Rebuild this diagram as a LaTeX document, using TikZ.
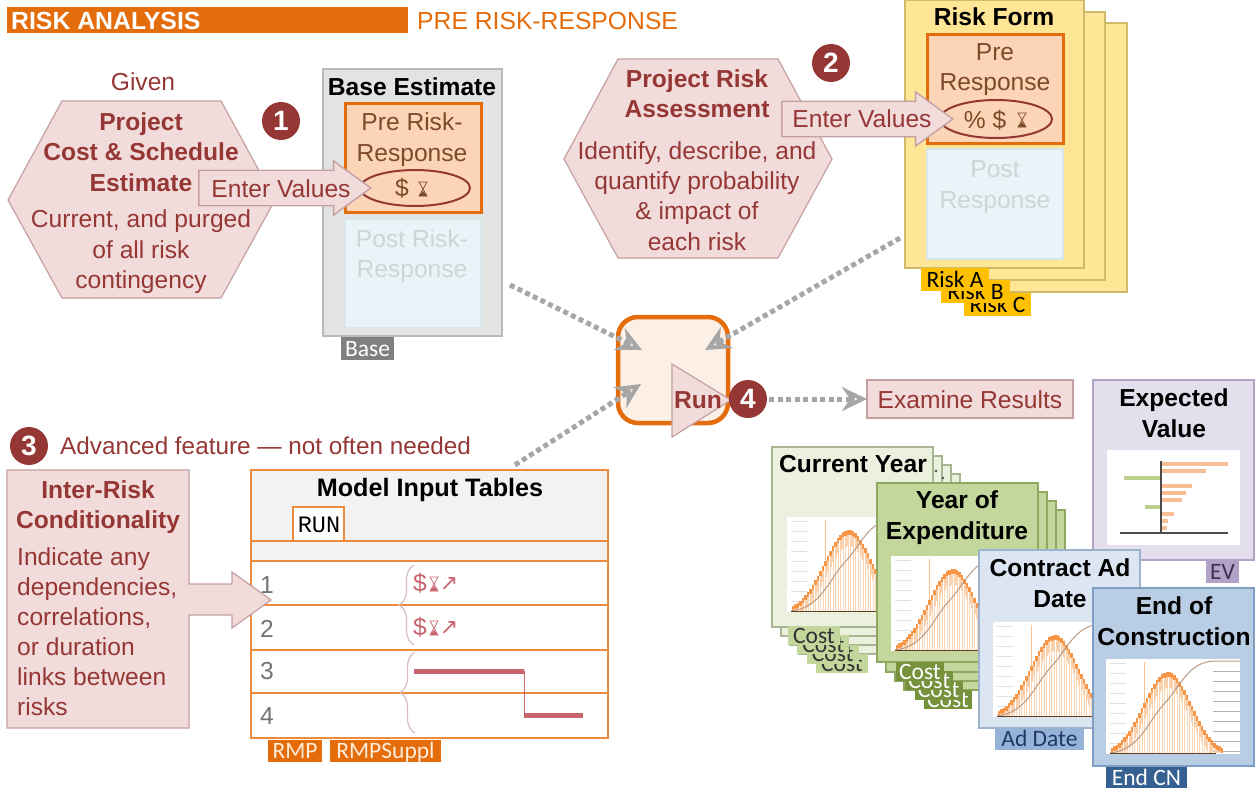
\documentclass[tikz,border=0pt]{standalone}
\usepackage{fontspec}
\setmainfont{Liberation Sans}
\newfontfamily\tabfont{Carlito}
\newfontfamily\runfont{Liberation Mono}
\newfontfamily\symfont{DejaVu Sans}
\usepackage{xcolor}
\usetikzlibrary{shapes.geometric,shapes.arrows,calc,arrows.meta,decorations.pathreplacing}
\definecolor{riskRed}{HTML}{953735}
\definecolor{hexFill}{HTML}{F2DCDB}
\definecolor{hexLine}{HTML}{C4A0A2}
\definecolor{riskOrange}{HTML}{E46C0A}
\definecolor{tableLine}{HTML}{EC8B3C}
\definecolor{tableRed}{HTML}{C8646E}
\definecolor{preFill}{HTML}{FBD5B5}
\definecolor{preText}{HTML}{7D4A2E}
\definecolor{postFill}{HTML}{EAF3F7}
\definecolor{postLine}{HTML}{D8E6EC}
\definecolor{postText}{HTML}{CDD5D9}
\definecolor{flowGray}{HTML}{A6A6A6}
\definecolor{formFill}{HTML}{FFE596}
\definecolor{formLine}{HTML}{CDBB6A}
\definecolor{formTab}{HTML}{FFC000}
\definecolor{barOrange}{HTML}{F79646}
\definecolor{barLight}{HTML}{FCD5B4}
\definecolor{evBar}{HTML}{F8BE94}
\definecolor{evGreen}{HTML}{BBD08F}
\definecolor{cdfBrown}{HTML}{BA9A84}
\definecolor{curFill}{HTML}{EBF1DE}
\definecolor{curLine}{HTML}{A8B592}
\definecolor{curTabFill}{HTML}{C3D69B}
\definecolor{yoeFill}{HTML}{C3D69B}
\definecolor{yoeLine}{HTML}{8FA860}
\definecolor{yoeTabFill}{HTML}{76923C}
\definecolor{adFill}{HTML}{DCE6F2}
\definecolor{adLine}{HTML}{9DB2CC}
\definecolor{adTabFill}{HTML}{95B3D7}
\definecolor{adTabText}{HTML}{1F3864}
\definecolor{endFill}{HTML}{B9CDE5}
\definecolor{endLine}{HTML}{7F9FC5}
\definecolor{endTabFill}{HTML}{366092}
\definecolor{evFill}{HTML}{E4DFEC}
\definecolor{evLine}{HTML}{B3A2C7}
\definecolor{evTabText}{HTML}{403152}
\newcommand{\bodysize}{\fontsize{24.6}{30.4}\selectfont}
\tikzset{
    wh/.style 2 args={minimum width=#1pt, minimum height=#2pt, anchor=north west, inner sep=0pt, outer sep=0pt},
    plaintext/.style={text=riskRed, font=\bodysize, align=center, inner sep=0pt},
    boldtext/.style={text=riskRed, font=\bodysize\bfseries, align=center, inner sep=0pt},
    titletext/.style={text=black, font=\bodysize\bfseries, align=center, inner sep=0pt},
    leftlist/.style={text=riskRed, font=\fontsize{24.6}{29.9}\selectfont, align=left, anchor=north west, inner sep=0pt},
    hexshape/.style={fill=hexFill, draw=hexLine, line width=1.2pt},
    badge/.style={circle, fill=riskRed, text=white, font=\fontsize{28}{28}\selectfont\bfseries, minimum size=38pt, inner sep=0pt},
    enterarrow/.style={single arrow, fill=hexFill, draw=hexLine, line width=1.4pt, inner sep=13pt, minimum width=54pt, single arrow tip angle=72, anchor=tip},
    flowline/.style={draw=flowGray, line width=5pt, dash pattern=on 5pt off 3.5pt, -{Stealth[open, length=25pt, width=24pt, line width=4pt]}},
    prebox/.style={fill=preFill, draw=riskOrange, line width=3pt},
    postbox/.style={fill=postFill, draw=postLine, line width=1.5pt},
    pretext/.style={text=preText, font=\bodysize, align=center, inner sep=0pt},
    posttext/.style={text=postText, font=\bodysize, align=center, inner sep=0pt},
    valring/.style={ellipse, draw=riskRed, line width=2pt, inner sep=0pt},
    tabbox/.style={font=\tabfont\fontsize{23.5}{24}\selectfont, inner sep=0pt, outer sep=0pt, text height=17pt, text depth=2pt, anchor=north west},
    tablerow/.style={draw=tableLine, line width=1.8pt},
    rownum/.style={text=black!55, font=\bodysize, inner sep=0pt},
    rowbrace/.style={draw=hexLine!70!white, line width=1.2pt, decorate, decoration={brace, amplitude=15pt}},
    gantt/.style={draw=tableRed, line width=5pt},
    evbar/.style={draw=evBar, line width=4pt},
    evlow/.style={draw=evGreen, line width=4pt},
    curcard/.style={wh={161}{180}, fill=curFill, draw=curLine, line width=1.2pt},
    curtab/.style={tabbox, minimum width=52pt, minimum height=19pt, fill=curTabFill, text=black!80},
    yoecard/.style={wh={161}{180}, fill=yoeFill, draw=yoeLine, line width=1.2pt},
    yoetab/.style={tabbox, minimum width=48pt, minimum height=19pt, fill=yoeTabFill, text=white},
    pics/hourglass/.style={code={
        \draw[#1, line width=0.7pt] (-4,-7) -- (4,-7) -- (-4,7) -- (4,7) -- cycle;
        \fill[#1] (-4,7) -- (4,7) -- (0,2) -- cycle;
    }},
    pics/histchart/.style={code={
        \fill[white] (0,0) rectangle (134,95);
        \foreach \tickpos in {4,14,...,84} {
            \draw[black!12, line width=0.8pt] (4,\tickpos) -- (20,\tickpos);
        }
        \foreach \tickpos in {12,22,...,92} {
            \draw[black!30, line width=0.8pt] (107,\tickpos) -- (134,\tickpos);
        }
        \draw[barOrange!60, line width=1pt] (38,3) -- (38,94);
        \foreach \barx in {6,8.5,...,116} {
            \pgfmathsetmacro{\bars}{\barx<62?24:23}
            \pgfmathsetmacro{\barh}{81*exp(-0.5*((\barx-62)/\bars)^2)}
            \draw[barLight, line width=1pt] (\barx,94) -- (\barx,{94-\barh});
            \draw[barOrange!45, line width=2pt] (\barx,{94-\barh}) -- (\barx,{94-\barh+min(\barh,16)});
            \draw[barOrange, line width=2.2pt] (\barx,{94-\barh}) -- (\barx,{94-\barh+min(\barh,5)});
        }
        \draw[cdfBrown, line width=1pt] (4,94) .. controls (34,91) and (42,62) .. (58,45) .. controls (74,28) and (82,3) .. (108,2) -- (134,2);
        \draw[black!50!brown, line width=1pt] (4,94) -- (110,94);
    }}
}

\begin{document}
\begin{tikzpicture}[x=1pt, y=-1pt]
        \useasboundingbox (0,0) rectangle (1255,790);
        % header
        \node[wh={401}{26}, fill=riskOrange] (headBar) at (7,7) {};
        \node[anchor=west, inner sep=0pt, text=white, font=\fontsize{24.8}{25}\selectfont\bfseries] (headRisk) at (11,20.5) {RISK ANALYSIS};
        \node[anchor=west, inner sep=0pt, text=riskOrange, font=\fontsize{24.7}{26}\selectfont] (headPre) at (417,21) {PRE RISK-RESPONSE};

        % given estimate
        \node[plaintext] (given) at (143,82) {Given};
        \draw[hexshape] (8,200) -- (62,101) -- (221,101) -- (275,200) -- (221,298) -- (62,298) -- cycle;
        \node[boldtext] (estTitle) at (141,152) {Project\\Cost \& Schedule\\Estimate};
        \node[plaintext] (estBody) at (141,252) {Current, and purged\\of all risk\\contingency};
        \node[badge] (badgeA) at (281,121) {1};

        % base estimate
        \node[wh={179}{267}, fill=black!11, draw=black!27, line width=1.5pt] (baseBox) at (323,69) {};
        \node[titletext] (baseTitle) at (412,87) {Base Estimate};
        \node[wh={136}{109}, prebox] (basePre) at (345,103) {};
        \node[pretext] (basePreText) at (412,139.5) {Pre Risk-\\Response};
        \node[valring, minimum width=110pt, minimum height=36pt] (baseRing) at (415,188) {};
        \node[pretext] (baseDollar) at (402,188) {\$};
        \pic at (423,189) {hourglass=preText};
        \node[wh={136}{109}, postbox] (basePost) at (345,219) {};
        \node[posttext] (basePostText) at (412,256) {Post Risk-\\Response};
        \node[tabbox, minimum width=53pt, minimum height=23pt, fill=black!50, text=white] (baseTab) at (341,337) {Base};
        \node[enterarrow, minimum height=172pt] (arrowA) at (372,188) {};
        \node[plaintext] (enterA) at (281,189) {Enter Values};

        % risk form
        \node[wh={179}{269}, fill=formFill, draw=formLine, line width=1.2pt] (formC) at (948,23) {};
        \node[wh={179}{268}, fill=formFill, draw=formLine, line width=1.2pt] (formB) at (926,12) {};
        \node[wh={179}{268}, fill=formFill, draw=formLine, line width=1.2pt] (formA) at (905,0) {};
        \node[tabbox, minimum width=67pt, minimum height=23pt, fill=formTab, text=black] (tabC) at (964,293) {Risk C};
        \node[tabbox, minimum width=69pt, minimum height=23pt, fill=formTab, text=black] (tabB) at (941,280) {Risk B};
        \node[tabbox, minimum width=68pt, minimum height=23pt, fill=formTab, text=black] (tabA) at (921,268) {Risk A};
        \node[titletext] (formTitle) at (994,17) {Risk Form};
        \node[wh={136}{109}, prebox] (formPre) at (927,34) {};
        \node[pretext] (formPreText) at (995,69.5) {Pre\\Response};
        \node[valring, minimum width=112pt, minimum height=38pt] (formRing) at (996,119) {};
        \node[pretext] (formValue) at (985,120) {\% \$};
        \pic at (1022,120) {hourglass=preText};
        \node[wh={136}{110}, postbox] (formPost) at (927,149) {};
        \node[posttext] (formPostText) at (995,187) {Post\\Response};

        % risk assessment
        \draw[hexshape] (564,159) -- (618,59) -- (778,59) -- (832,159) -- (778,258) -- (618,258) -- cycle;
        \node[boldtext] (assessTitle) at (697,93.5) {Project Risk\\Assessment};
        \node[plaintext] (assessBody) at (697,196) {Identify, describe, and\\quantify probability\\\& impact of\\each risk};
        \node[badge] (badgeB) at (831,63) {2};
        \node[enterarrow, minimum height=171pt] (arrowB) at (954,119) {};
        \node[plaintext] (enterB) at (862,119) {Enter Values};

        % run
        \node[wh={110}{106}, fill=riskOrange!10, draw=riskOrange, line width=4.5pt, rounded corners=20pt] (runBox) at (618,317) {};
        \coordinate (baseOut) at (510,285);
        \coordinate (formOut) at (900,238);
        \coordinate (tableOut) at (515,465);
        \draw[flowline] (baseOut) -- ($(runBox.center)+(-31,-20)$);
        \draw[flowline] (formOut) -- ($(runBox.center)+(32,-20)$);
        \draw[flowline] (tableOut) -- ($(runBox.center)+(-32,14)$);
        \draw[fill=hexFill, draw=hexLine, line width=1.2pt] (672,364) -- (731,400) -- (672,437) -- cycle;
        \node[boldtext] (runText) at (698,400) {Run};
        \node[badge] (badgeD) at (748,399) {4};
        \node[wh={206}{38}, fill=hexFill, draw=hexLine, line width=1.4pt] (examine) at (867,380) {};
        \node[plaintext] (examineText) at (970,400) {Examine Results};
        \draw[flowline, shorten <=2pt] (badgeD) -- (examine);

        % model input tables
        \node[wh={357}{71}, fill=black!5, tablerow] (tableHead) at (251,470) {};
        \node[wh={357}{20}, fill=black!5, tablerow] (tableBand) at (251,541) {};
        \node[wh={357}{44}, fill=white, tablerow] (rowA) at (251,561) {};
        \node[wh={357}{45}, fill=white, tablerow] (rowB) at (251,605) {};
        \node[wh={357}{43}, fill=white, tablerow] (rowC) at (251,650) {};
        \node[wh={357}{45}, fill=white, tablerow] (rowD) at (251,693) {};
        \node[titletext, font=\fontsize{25.2}{30}\selectfont\bfseries] (tableTitle) at (430,489.5) {Model Input Tables};
        \node[wh={51}{34}, fill=white, tablerow] (runTab) at (293,507) {};
        \node[text=black, font=\runfont\fontsize{23.5}{24}\selectfont, inner sep=0pt] (runTabText) at (319,525) {RUN};
        \node[rownum] (numA) at (267,585) {1};
        \node[rownum] (numB) at (267,629) {2};
        \node[rownum] (numC) at (267,671) {3};
        \node[rownum] (numD) at (267,716) {4};
        \draw[rowbrace] (414,645) -- (414,565);
        \draw[rowbrace] (415,733) -- (415,652);
        \node[text=tableRed, font=\bodysize, inner sep=0pt] (dollarA) at (420,583) {\$};
        \pic at (434,584) {hourglass=tableRed};
        \node[text=tableRed, font=\symfont\fontsize{22}{22}\selectfont, inner sep=0pt] (trendA) at (449,584) {↗};
        \node[text=tableRed, font=\bodysize, inner sep=0pt] (dollarB) at (420,627) {\$};
        \pic at (434,628) {hourglass=tableRed};
        \node[text=tableRed, font=\symfont\fontsize{22}{22}\selectfont, inner sep=0pt] (trendB) at (449,628) {↗};
        \coordinate (ganttA) at (414,671);
        \coordinate (ganttB) at (524,671);
        \coordinate (ganttC) at (524,715);
        \coordinate (ganttD) at (583,715);
        \draw[gantt] (ganttA) -- (ganttB);
        \draw[gantt] (ganttC) -- (ganttD);
        \draw[tableRed, line width=1pt] (ganttB) -- (ganttC);
        \node[tabbox, minimum width=54pt, minimum height=22pt, fill=riskOrange, text=orange!15] (tabRmp) at (268,740) {RMP};
        \node[tabbox, minimum width=111pt, minimum height=22pt, fill=riskOrange, text=orange!15] (tabSuppl) at (330,740) {RMPSuppl};

        % conditionality
        \node[badge] (badgeC) at (29,446) {3};
        \node[anchor=west, text=riskRed, font=\fontsize{24.3}{24}\selectfont, inner sep=0pt] (advNote) at (60,446) {Advanced feature — not often needed};
        \draw[hexshape] (7,470) -- (189,470) -- (189,584) -- (232,584) -- (232,572) -- (271,600) -- (232,628) -- (232,615) -- (189,615) -- (189,728) -- (7,728) -- cycle;
        \node[boldtext] (condTitle) at (98,507) {Inter-Risk\\Conditionality};
        \node[leftlist] (condBody) at (17,547.5) {Indicate any\\dependencies,\\correlations,\\or duration\\links between\\risks};

        % expected value
        \node[wh={161}{180}, fill=evFill, draw=evLine, line width=1.5pt] (evBox) at (1093,380) {};
        \node[titletext] (evTitle) at (1174,413) {Expected\\Value};
        \node[wh={133}{95}, fill=white] (evChart) at (1107,450) {};
        \draw[evbar] (1161,464) -- (1228,464);
        \draw[evbar] (1161,471) -- (1206,471);
        \draw[evlow] (1124,478) -- (1161,478);
        \draw[evbar] (1161,486) -- (1192,486);
        \draw[evbar] (1161,493) -- (1186,493);
        \draw[evbar] (1161,500) -- (1182,500);
        \draw[evlow] (1145,507) -- (1161,507);
        \draw[evbar] (1161,514) -- (1174,514);
        \draw[evbar] (1161,521) -- (1168,521);
        \draw[evbar] (1161,528) -- (1167,528);
        \draw[black!70, line width=1.2pt] (1161,461) -- (1161,533);
        \draw[black!70, line width=1.2pt] (1120,533) -- (1228,533);
        \node[tabbox, minimum width=33pt, minimum height=23pt, fill=evLine, text=evTabText] (evTab) at (1206,560) {EV};

        % current year
        \foreach \off in {27,18,9} {
            \node[curcard] (curCard\off) at ({772+\off},{447+\off}) {};
        }
        \foreach \off in {28,18.7,9.3} {
            \node[curtab] (curTab\off) at ({788+\off},{626+\off}) {Cost};
        }
        \fill[black!70] (943,478) circle (1.3pt);
        \node[curcard] (curCard) at (772,447) {};
        \node[curtab] (curTab) at (788,626) {Cost};
        \node[titletext] (curTitle) at (853,464) {Current Year};
        \fill[black!70] (936,471) circle (1.3pt);
        \pic at (787,517) {histchart};

        % year of expenditure
        \foreach \off in {27,18,9} {
            \node[yoecard] (yoeCard\off) at ({877+\off},{483+\off}) {};
        }
        \foreach \off in {28,18.7,9.3} {
            \node[yoetab] (yoeTab\off) at ({896+\off},{662+\off}) {Cost};
        }
        \node[yoecard, minimum height=179pt] (yoeCard) at (877,483) {};
        \node[yoetab] (yoeTab) at (896,662) {Cost};
        \node[titletext] (yoeTitle) at (957,517.5) {Year of\\Expenditure};
        \pic at (891,556) {histchart};

        % contract ad date
        \node[tabbox, minimum width=89pt, minimum height=22pt, fill=adTabFill, text=adTabText] (adTab) at (995,728) {Ad Date};
        \node[wh={161}{178}, fill=adFill, draw=adLine, line width=1.5pt] (adCard) at (979,550) {};
        \node[titletext] (adTitle) at (1060,583) {Contract Ad\\Date};
        \pic at (993,622) {histchart};

        % end of construction
        \node[tabbox, minimum width=81pt, minimum height=21pt, fill=endTabFill, text=white] (endTab) at (1106,767) {End CN};
        \node[wh={161}{178}, fill=endFill, draw=endLine, line width=1.5pt] (endCard) at (1093,588) {};
        \node[titletext] (endTitle) at (1174,621) {End of\\Construction};
        \pic at (1106,659) {histchart};
\end{tikzpicture}
\end{document}
